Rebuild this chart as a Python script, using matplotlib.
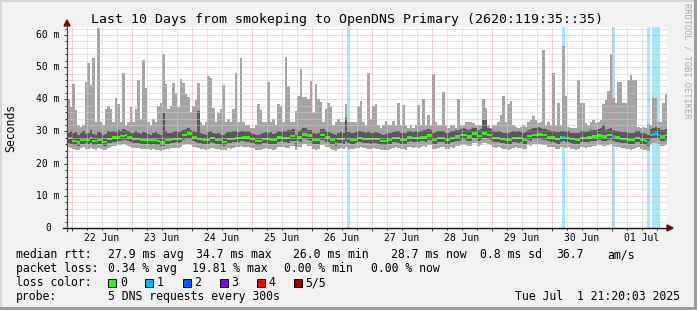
import numpy as np
import matplotlib
matplotlib.use("Agg")
import matplotlib.pyplot as plt
from matplotlib.patches import Rectangle, Polygon
from matplotlib.lines import Line2D
import matplotlib.transforms as mtransforms

plt.rcParams['font.family'] = ['DejaVu Sans Mono']

# hourly smoke data, 10 days (one row per day), values in ms
rtt_max = [
    40, 37.7, 44.8, 36.7, 32, 31.5, 32, 45.4, 51.4, 44.5, 52.8, 33, 62.2, 33, 32, 36.9, 37.9, 37, 33, 40.4, 38.5, 33, 48.1, 32,
    33, 37.6, 33, 37, 46, 34, 52.2, 43.6, 33, 32, 34, 33, 37.9, 38.8, 54.1, 44.8, 37, 38, 45.2, 42, 37.6, 46.3, 45, 41.7,
    40.6, 36, 37.9, 39.8, 45.2, 33, 32, 33, 47.2, 46.6, 37.4, 33, 35.6, 37, 44.5, 33, 34, 33, 37, 48.3, 33, 52.7, 33, 32,
    32, 31, 31, 32, 38.5, 36.7, 33, 33, 45.5, 33, 34, 32, 38.5, 37.9, 33, 53.3, 44.1, 33, 33, 36.5, 41, 49.5, 40.8, 40.6,
    40, 45.7, 35.6, 44.8, 40.1, 39.3, 33, 37, 38.8, 37.9, 32, 33, 34, 33, 33, 38.4, 33, 33, 33, 33, 37.9, 39.6, 33, 32,
    48.3, 34, 37.9, 38.5, 32, 31, 32, 33.3, 32, 32, 33.3, 32, 39, 32, 38.2, 32, 31, 32, 31, 32, 38.2, 32, 40, 32,
    35, 32, 47.9, 33, 32, 32, 42.3, 32, 31, 32, 32, 31, 40.1, 32, 32, 33, 32.9, 33, 32.5, 32, 32, 32, 40.1, 37.3,
    32, 31, 32, 32, 33, 35, 40.9, 33, 38.5, 39.5, 32, 31.5, 31, 31.5, 32, 31.5, 33, 33.5, 34.7, 33.6, 32.5, 33, 55.3, 32,
    33, 32, 48.3, 32, 38.8, 32, 56.6, 41, 31.5, 31, 31, 31, 46, 38.8, 39, 32.5, 32, 33, 33.5, 32.5, 33, 33.5, 38.4, 39.8,
    42.7, 54, 40.5, 38.8, 45.5, 45.5, 39, 39, 46, 47.6, 46, 46, 31.5, 31, 31.5, 31, 32.2, 32, 40.5, 40.4, 33, 33, 38.8, 41.6,
]
rtt_p4 = [
    29.6, 30.2, 29.4, 29.8, 29.0, 29.5, 30.0, 29.2, 29.6, 30.4, 29.3, 29.0, 29.8, 29.5, 28.9, 29.3, 30.0, 29.7, 30.3, 29.9, 30.5, 30.2, 30.8, 30.4,
    30.0, 29.6, 29.4, 30.1, 29.5, 29.2, 29.8, 29.6, 29.3, 29.0, 29.5, 29.9, 29.2, 28.9, 35.9, 30.2, 29.6, 29.4, 29.8, 30.0, 29.7, 30.2, 30.6, 30.9,
    31.0, 30.6, 30.2, 29.8, 36.4, 29.6, 29.3, 29.0, 29.7, 30.1, 29.6, 29.2, 29.5, 29.0, 28.8, 29.4, 29.7, 29.9, 30.2, 30.0, 29.8, 30.3, 30.1, 29.9,
    30.2, 29.5, 29.3, 29.0, 28.9, 29.2, 29.6, 29.9, 29.4, 29.7, 29.3, 29.5, 30.2, 29.9, 30.0, 30.3, 30.6, 30.4, 30.8, 29.0, 30.1, 30.5, 31.2, 31.0,
    30.6, 30.5, 29.4, 29.2, 29.6, 30.7, 30.8, 30.2, 29.9, 29.4, 29.3, 28.8, 29.6, 29.9, 29.4, 35.0, 29.8, 29.5, 29.4, 29.7, 30.0, 30.2, 29.8, 29.5,
    29.7, 29.4, 29.6, 29.9, 29.5, 29.1, 29.0, 29.2, 29.6, 29.4, 29.9, 30.2, 30.0, 29.6, 29.4, 29.5, 30.1, 30.3, 29.9, 30.0, 29.8, 30.2, 30.4, 30.6,
    30.8, 30.5, 29.6, 29.7, 30.0, 30.1, 30.2, 29.6, 29.5, 30.0, 30.1, 30.4, 30.6, 30.9, 31.0, 30.7, 30.5, 30.8, 31.2, 31.0, 30.6, 30.9, 33.6, 33.6,
    31.0, 30.8, 30.2, 29.9, 30.0, 29.8, 29.6, 29.4, 29.5, 29.7, 30.0, 29.9, 30.1, 29.8, 29.6, 29.9, 30.6, 30.8, 31.0, 31.2, 31.3, 31.0, 30.9, 30.8,
    30.4, 30.3, 30.1, 29.8, 29.7, 30.2, 30.1, 29.9, 30.0, 29.6, 29.5, 29.4, 29.6, 30.0, 30.1, 29.9, 30.2, 30.4, 30.6, 30.5, 30.9, 31.0, 32.0, 30.6,
    30.9, 31.0, 30.6, 30.3, 30.2, 29.8, 29.9, 29.7, 29.5, 29.4, 29.6, 30.0, 30.1, 29.6, 29.5, 29.2, 29.0, 30.8, 31.2, 31.4, 31.0, 30.6, 30.5, 30.9,
]
rtt_median = [
    27.9, 27.9, 27.0, 27.0, 26.6, 27.4, 27.4, 27.4, 27.4, 27.9, 27.0, 27.0, 27.4, 27.4, 26.8, 26.8, 27.7, 27.7, 28.1, 28.1, 28.1, 28.6, 28.6, 28.9,
    28.1, 28.1, 27.7, 27.7, 27.7, 27.4, 27.4, 27.4, 27.4, 27.4, 27.4, 27.4, 27.0, 26.6, 26.6, 27.4, 27.4, 27.4, 27.7, 27.7, 27.7, 27.7, 28.9, 28.9,
    29.4, 29.4, 28.1, 28.1, 27.7, 27.7, 27.4, 27.4, 27.4, 27.9, 27.9, 27.4, 27.4, 27.4, 26.8, 26.8, 27.6, 27.6, 27.6, 27.9, 27.9, 27.9, 28.1, 28.1,
    28.1, 27.6, 27.6, 27.0, 27.0, 27.0, 27.6, 27.6, 27.6, 27.4, 27.4, 27.4, 28.1, 28.1, 27.9, 27.9, 27.9, 28.6, 28.6, 26.8, 28.1, 28.1, 29.1, 29.1,
    28.7, 28.7, 27.4, 27.4, 27.4, 28.9, 28.9, 28.1, 28.1, 27.4, 27.4, 26.5, 27.6, 27.6, 27.6, 34.7, 27.6, 27.4, 27.4, 27.4, 27.9, 27.9, 27.6, 27.6,
    27.6, 27.6, 27.6, 27.6, 27.6, 27.0, 27.0, 27.0, 27.4, 27.4, 27.9, 27.9, 27.9, 27.4, 27.4, 27.4, 28.1, 28.1, 27.9, 27.9, 27.9, 28.1, 28.1, 28.1,
    28.7, 28.7, 27.4, 27.4, 27.9, 27.9, 27.9, 27.4, 27.4, 27.9, 27.9, 28.4, 28.4, 28.9, 28.9, 28.9, 28.4, 28.4, 29.4, 29.4, 28.6, 28.6, 29.4, 29.4,
    28.9, 28.9, 27.9, 27.9, 27.9, 27.7, 27.7, 27.4, 27.4, 27.4, 27.9, 27.9, 27.9, 27.9, 27.4, 27.4, 28.6, 28.6, 28.9, 28.9, 29.1, 29.1, 28.9, 28.9,
    28.1, 28.1, 28.1, 27.6, 27.6, 28.1, 28.1, 27.9, 27.9, 27.6, 27.6, 27.4, 27.4, 27.9, 27.9, 27.9, 28.1, 28.1, 28.4, 28.4, 28.7, 28.7, 28.4, 28.4,
    28.9, 28.9, 28.4, 28.1, 28.1, 27.7, 27.7, 27.7, 27.4, 27.4, 27.4, 27.9, 27.9, 27.4, 27.4, 27.0, 26.6, 28.9, 29.1, 29.4, 28.9, 28.4, 28.4, 28.9,
]
rtt_p2 = [
    26.4, 26.2, 25.8, 25.9, 25.4, 26.0, 26.1, 26.3, 26.0, 26.5, 25.8, 25.7, 26.2, 26.0, 25.5, 25.6, 26.3, 26.4, 26.7, 26.8, 27.0, 27.2, 27.4, 27.3,
    26.9, 26.7, 26.5, 26.3, 26.4, 26.0, 26.2, 26.1, 26.0, 25.9, 26.1, 25.8, 25.7, 25.4, 25.5, 26.0, 26.1, 26.3, 26.4, 26.6, 26.5, 26.7, 27.4, 27.6,
    27.8, 27.6, 26.9, 26.7, 26.4, 26.3, 26.1, 26.0, 26.2, 26.6, 26.5, 26.1, 26.2, 25.9, 25.6, 25.7, 26.4, 26.3, 26.6, 26.7, 26.8, 27.0, 26.9, 26.7,
    26.8, 26.5, 26.4, 25.9, 25.8, 25.9, 26.3, 26.4, 26.2, 26.1, 26.0, 26.1, 26.8, 26.9, 26.7, 26.6, 26.5, 27.1, 27.2, 25.6, 26.9, 26.8, 27.6, 27.8,
    27.3, 27.2, 26.1, 26.0, 26.2, 27.5, 27.4, 26.8, 26.7, 26.2, 26.0, 25.4, 26.3, 26.4, 26.2, 27.0, 26.3, 26.1, 26.2, 26.4, 26.6, 26.7, 26.5, 26.4,
    26.3, 26.2, 26.4, 26.3, 26.1, 25.8, 25.7, 25.9, 26.0, 26.2, 26.6, 26.7, 26.5, 26.2, 26.1, 26.0, 26.8, 26.9, 26.6, 26.7, 26.6, 26.9, 27.0, 26.8,
    27.4, 27.3, 26.2, 26.1, 26.6, 26.7, 26.8, 26.1, 26.2, 26.7, 26.6, 27.0, 27.1, 27.5, 27.6, 27.4, 27.1, 27.0, 28.0, 27.9, 27.2, 27.3, 28.0, 28.1,
    27.6, 27.5, 26.7, 26.6, 26.8, 26.4, 26.3, 26.1, 26.0, 26.2, 26.6, 26.7, 26.5, 26.6, 26.2, 26.1, 27.3, 27.2, 27.6, 27.7, 27.8, 27.6, 27.5, 27.4,
    26.9, 26.8, 26.7, 26.3, 26.2, 26.8, 26.9, 26.6, 26.7, 26.3, 26.2, 26.0, 26.1, 26.7, 26.8, 26.6, 26.8, 26.9, 27.1, 27.0, 27.4, 27.5, 27.2, 27.0,
    27.5, 27.6, 27.0, 26.8, 26.7, 26.4, 26.5, 26.3, 26.1, 26.0, 26.2, 26.6, 26.7, 26.1, 26.0, 25.8, 25.4, 27.6, 27.9, 28.1, 27.6, 27.0, 27.1, 27.5,
]
rtt_min = [
    25.2, 24.8, 24.6, 24.4, 24.2, 24.9, 25.1, 24.7, 24.5, 25.0, 24.6, 24.3, 24.8, 24.5, 24.2, 24.4, 24.9, 25.3, 25.5, 25.6, 25.8, 25.9, 26.0, 25.7,
    25.4, 25.3, 25.0, 24.8, 24.9, 24.6, 24.7, 24.5, 24.6, 24.4, 24.7, 24.3, 24.2, 24.0, 24.1, 24.5, 24.6, 24.8, 24.9, 25.0, 24.9, 25.2, 25.8, 26.0,
    26.2, 25.9, 25.3, 25.1, 24.9, 24.7, 24.6, 24.4, 24.6, 24.9, 24.8, 24.5, 24.6, 24.3, 24.1, 24.2, 24.8, 24.7, 25.0, 25.1, 25.2, 25.4, 25.3, 25.1,
    25.2, 24.9, 24.8, 24.4, 24.3, 24.4, 24.7, 24.8, 24.6, 24.5, 24.4, 24.6, 25.2, 25.3, 25.1, 25.0, 24.9, 25.5, 25.6, 24.1, 25.3, 25.2, 26.0, 26.1,
    25.6, 25.5, 24.6, 24.4, 24.6, 25.8, 25.7, 25.2, 25.1, 24.6, 24.4, 23.9, 24.7, 24.8, 24.6, 25.3, 24.7, 24.5, 24.6, 24.8, 25.0, 25.1, 24.9, 24.8,
    24.7, 24.6, 24.8, 24.7, 24.5, 24.2, 24.1, 24.3, 24.4, 24.6, 25.0, 25.1, 24.9, 24.6, 24.5, 24.4, 25.2, 25.3, 25.0, 25.1, 25.0, 25.3, 25.4, 25.2,
    25.8, 25.7, 24.6, 24.5, 25.0, 25.1, 25.2, 24.5, 24.6, 25.1, 25.0, 25.4, 25.5, 25.9, 26.0, 25.8, 25.5, 25.4, 26.4, 26.3, 25.6, 25.7, 26.4, 26.5,
    26.0, 25.9, 25.1, 25.0, 25.2, 24.8, 24.7, 24.5, 24.4, 24.6, 25.0, 25.1, 24.9, 25.0, 24.6, 24.5, 25.7, 25.6, 26.0, 26.1, 26.2, 26.0, 25.9, 25.8,
    25.3, 25.2, 25.1, 24.7, 24.6, 25.2, 25.3, 25.0, 25.1, 24.7, 24.6, 24.4, 24.5, 25.1, 25.2, 25.0, 25.2, 25.3, 25.5, 25.4, 25.8, 25.9, 25.6, 25.4,
    25.9, 26.0, 25.4, 25.2, 25.1, 24.8, 24.9, 24.7, 24.5, 24.4, 24.6, 25.0, 25.1, 24.5, 24.4, 24.2, 23.8, 26.0, 26.3, 26.5, 26.0, 25.4, 25.5, 25.9,
]
# hours (from graph start) where one of five pings was lost
loss_hours = [112, 198, 218, 232, 234, 235, 236]

day_labels = ["22 Jun", "23 Jun", "24 Jun", "25 Jun", "26 Jun",
              "27 Jun", "28 Jun", "29 Jun", "30 Jun", "01 Jul"]
y_ticks = [0, 10, 20, 30, 40, 50, 60]
y_tick_labels = ["0", "10 m", "20 m", "30 m", "40 m", "50 m", "60 m"]

loss_names = ["0", "1", "2", "3", "4", "5/5"]
loss_colors = ["#26ff00", "#00b8ff", "#0059ff", "#7e00ff", "#ff0000", "#a10000"]

W, H = 697, 310


def fx(px):
    return px / W


def fy(py):
    return 1 - py / H


fig = plt.figure(figsize=(W / 100, H / 100), dpi=100, facecolor="#f2f2f2")

ax = fig.add_axes([fx(67), fy(228), 600 / W, 201 / H])
ax.set_facecolor("white")
ax.set_xlim(0, 240)
ax.set_ylim(0, 201 / 3.2167)
for s in ax.spines.values():
    s.set_visible(False)

n = len(rtt_max)
hours = np.arange(n)
edges = np.arange(n + 1)
ext = lambda v: np.append(v, v[-1])

# loss background columns
ax.bar(loss_hours, [ax.get_ylim()[1]] * len(loss_hours), width=1, align="edge",
       color="#a6e6ff", linewidth=0, zorder=1)

# smoke
ax.fill_between(edges, ext(rtt_min), ext(rtt_max), step="post",
                color="#a4a4a4", linewidth=0, zorder=2)
ax.fill_between(edges, ext(rtt_p2), ext(rtt_p4), step="post",
                color="#585858", linewidth=0, zorder=2.1)

# median, coloured by loss
med_colors = [loss_colors[1] if h in loss_hours else loss_colors[0] for h in hours]
ax.bar(hours, 0.75, bottom=np.array(rtt_median) - 0.375, width=1, align="edge",
       color=med_colors, linewidth=0, zorder=3)

# grid (drawn over the data, like rrdtool)
grid_minor = "#cdcdcd"
grid_major = (0.96, 0.5, 0.5, 0.7)
for yv in range(2, 63, 2):
    c = grid_major if yv % 10 == 0 else grid_minor
    ax.axhline(yv, color=c, lw=0.72, dashes=(1, 1), zorder=4)
for hv in range(2, 240, 6):
    c = grid_major if (hv - 2) % 24 == 0 else grid_minor
    ax.axvline(hv, color=c, lw=0.72, dashes=(1, 1), zorder=4)

# ticks
ax.set_yticks(y_ticks)
ax.set_yticks(range(0, 63, 2), minor=True)
ax.set_xticks(range(2, 240, 24))
ax.set_xticks(range(2, 240, 6), minor=True)
ax.tick_params(which="major", direction="out", length=2.2, width=0.72,
               color="#333333", labelleft=False, labelbottom=False)
ax.tick_params(which="minor", direction="out", length=1.4, width=0.72,
               color="#333333")

# tick labels
for i, lab in enumerate(day_labels):
    ax.text(14 + 24 * i, -10 / 201, lab, transform=ax.get_xaxis_transform(),
            ha="center", va="center", fontsize=7)
ylab_tr = mtransforms.blended_transform_factory(fig.transFigure, ax.transData)
for v, lab in zip(y_ticks, y_tick_labels):
    ax.text(fx(48), v, lab, transform=ylab_tr, ha="center", va="center", fontsize=7)

# axes lines and arrows
fig.add_artist(Line2D([fx(67), fx(67)], [fy(231), fy(25)], color="#444444", lw=0.9))
fig.add_artist(Line2D([fx(63), fx(668)], [fy(228), fy(228)], color="#111111", lw=1.0))
fig.add_artist(Polygon([[fx(64), fy(26)], [fx(70), fy(26)], [fx(67), fy(20)]],
                       closed=True, color="#7f0000", transform=fig.transFigure))
fig.add_artist(Polygon([[fx(667), fy(225)], [fx(667), fy(231)], [fx(673), fy(228)]],
                       closed=True, color="#7f0000", transform=fig.transFigure))

# titles
fig.text(fx(347), fy(19.5), "Last 10 Days from smokeping to OpenDNS Primary (2620:119:35::35)",
         ha="center", va="center", fontsize=9.5)
fig.text(fx(10.5), fy(128), "Seconds", rotation=90, ha="center", va="center", fontsize=8.3)
fig.text(fx(687), fy(61), "RRDTOOL / TOBI OETIKER", rotation=270, ha="center", va="center",
         fontsize=6.3, color="#a8a8a8")

# legend
leg_fs = 8.3
line1 = [("median rtt:", 16), ("27.9 ms avg", 107.6), ("34.7 ms max", 196), ("26.0 ms min", 293),
         ("28.7 ms now", 391), ("0.8 ms sd", 480), ("36.7", 556), ("am/s", 607)]
line2 = [("packet loss:", 16), ("0.34 % avg", 107.6), ("19.81 % max", 192),
         ("0.00 % min", 284.4), ("0.00 % now", 371)]
for txt, xp in line1:
    fig.text(fx(xp), fy(254.5), txt, ha="left", va="center", fontsize=leg_fs)
for txt, xp in line2:
    fig.text(fx(xp), fy(268.5), txt, ha="left", va="center", fontsize=leg_fs)

fig.text(fx(16), fy(282.5), "loss color:", ha="left", va="center", fontsize=leg_fs)
sq_x = [108.4, 145.3, 182.7, 219.6, 256.9, 293.8]
for xp, name, col in zip(sq_x, loss_names, loss_colors):
    fig.add_artist(Rectangle((fx(xp), fy(286.5)), 8 / W, 8 / H, facecolor=col,
                             edgecolor="black", lw=0.72, transform=fig.transFigure))
    fig.text(fx(xp + 11.6), fy(282.5), name, ha="left", va="center", fontsize=leg_fs)

fig.text(fx(16), fy(296.5), "probe:", ha="left", va="center", fontsize=leg_fs)
fig.text(fx(107.6), fy(296.5), "5 DNS requests every 300s", ha="left", va="center", fontsize=leg_fs)
fig.text(fx(680), fy(296.5), "Tue Jul  1 21:20:03 2025", ha="right", va="center", fontsize=leg_fs)

# 3d frame
fig.add_artist(Rectangle((0, fy(2)), 1, 2 / H, color="#d6d6d6", transform=fig.transFigure, lw=0))
fig.add_artist(Rectangle((0, 0), 2 / W, 1, color="#d6d6d6", transform=fig.transFigure, lw=0))
fig.add_artist(Rectangle((0, 0), 1, 3 / H, color="#9c9c9c", transform=fig.transFigure, lw=0))
fig.add_artist(Rectangle((fx(694), 0), 3 / W, 1, color="#9c9c9c", transform=fig.transFigure, lw=0))

fig.savefig("out.png", dpi=100, facecolor=fig.get_facecolor())
